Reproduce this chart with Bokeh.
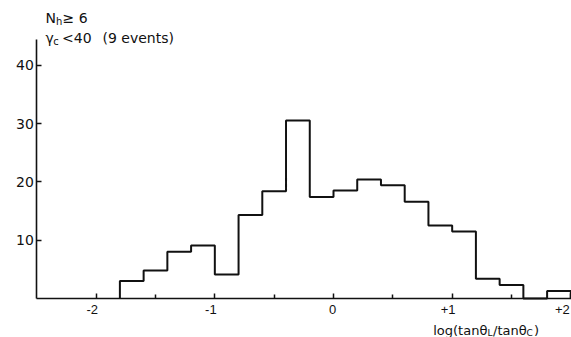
import numpy as np
from bokeh.plotting import figure
from bokeh.models import (FixedTicker, Label, LabelSet, ColumnDataSource,
                          Range1d, LinearAxis)
from bokeh.core.properties import value
from bokeh.embed import file_html
from bokeh.resources import INLINE

# ---- data ----
bin_edges = [-1.8, -1.6, -1.4, -1.2, -1.0, -0.8, -0.6, -0.4, -0.2, 0.0,
             0.2, 0.4, 0.6, 0.8, 1.0, 1.2, 1.4, 1.6, 1.8, 2.0]
counts = [3.0, 4.8, 8.0, 9.1, 4.1, 14.3, 18.4, 30.5, 17.4, 18.5,
          20.4, 19.4, 16.6, 12.5, 11.5, 3.4, 2.3, 0.0, 1.3]
x_ticks = [-2, -1, 0, 1, 2]
x_tick_labels = ["-2", "-1", "0", "+1", "+2"]
x_minor_ticks = [-1.5, -0.5, 0.5, 1.5]
y_ticks = [10, 20, 30, 40]
x_axis_span = (-2.5, 2.1)
y_axis_span = (0, 44.4)

# ---- geometry: the frame fills the whole canvas ----
W, H = 571, 337
PX_X0, PX_PER_X = 333.0, 118.67     # pixel of x=0, pixels per x unit
PX_Y0, PX_PER_Y = 298.0, 5.833      # pixel of y=0, pixels per y unit

def dx(px):
    return (px - PX_X0) / PX_PER_X

def dy(py):
    return (PX_Y0 - py) / PX_PER_Y

INK = "#111111"
FONT = "DejaVu Sans"
TICK_FONT = "Liberation Sans"

p = figure(width=W, height=H, output_backend="svg", toolbar_location=None,
           x_range=Range1d(dx(0), dx(W)), y_range=Range1d(dy(H), dy(0)),
           x_axis_location=None, y_axis_location=None,
           min_border=0)
p.outline_line_color = None
p.grid.visible = False
p.background_fill_color = "white"
p.border_fill_color = "white"

# histogram outline as a step line
xs = np.repeat(np.array(bin_edges), 2)
ys = np.concatenate([[0.0], np.repeat(np.array(counts), 2), [0.0]])
p.line(xs, ys, line_color=INK, line_width=2)

# axes, fixed inside the frame
xa = LinearAxis(fixed_location=0, bounds=x_axis_span,
                ticker=FixedTicker(ticks=x_ticks, minor_ticks=x_minor_ticks))
xa.major_label_overrides = {t: "" for t in x_ticks}
xa.axis_line_color = INK
xa.axis_line_width = 1.6
xa.major_tick_line_color = INK
xa.major_tick_line_width = 1.5
xa.major_tick_in = 5
xa.major_tick_out = 0
xa.minor_tick_line_color = INK
xa.minor_tick_line_width = 1.5
xa.minor_tick_in = 4
xa.minor_tick_out = 0
p.add_layout(xa, "below")

ya = LinearAxis(fixed_location=x_axis_span[0], bounds=y_axis_span,
                ticker=FixedTicker(ticks=y_ticks))
ya.axis_line_color = INK
ya.axis_line_width = 1.6
ya.major_tick_line_color = INK
ya.major_tick_line_width = 1.5
ya.major_tick_in = 5
ya.major_tick_out = 0
ya.minor_tick_line_color = None
ya.major_label_standoff = 3
ya.major_label_text_font = FONT
ya.major_label_text_font_size = "14px"
ya.major_label_text_color = INK
p.add_layout(ya, "left")

# x tick labels (sign hangs to the left of the tick; last one kept on canvas)
xoff = [-4.0 if s[0] in "+-" else -1.0 for s in x_tick_labels]
xoff[-1] = -8.5
src = ColumnDataSource(dict(x=x_ticks, text=x_tick_labels, xoff=xoff))
p.add_layout(LabelSet(x="x", y=dy(313.5), text="text", source=src,
                      x_offset="xoff", text_align="center",
                      text_baseline="alphabetic",
                      text_font=value(TICK_FONT), text_font_size=value("13px"),
                      text_color=INK))

def lab(txt, px, py, size):
    p.add_layout(Label(x=dx(px), y=dy(py), text=txt,
                       text_font=FONT, text_font_size=size,
                       text_color=INK, text_align="left",
                       text_baseline="alphabetic"))

# title lines
lab("N", 45, 17, "14px")
lab("h", 55.5, 20.5, "10px")
lab("\u2265 6", 62, 17, "14px")
lab("\u03b3", 45, 37.5, "14px")
lab("c", 52.8, 40.5, "10px")
lab("<40", 61.5, 37.5, "14px")
lab("(9 events)", 102, 37.5, "14px")

# x axis label
lab("log(tan\u03b8", 432.7, 329.5, "13px")
lab("L", 487, 332.5, "9px")
lab("/tan\u03b8", 492.5, 329.5, "13px")
lab("C", 526, 332.5, "9px")
lab(")", 533.5, 329.5, "13px")

open("out.html", "w").write(file_html(p, INLINE))
